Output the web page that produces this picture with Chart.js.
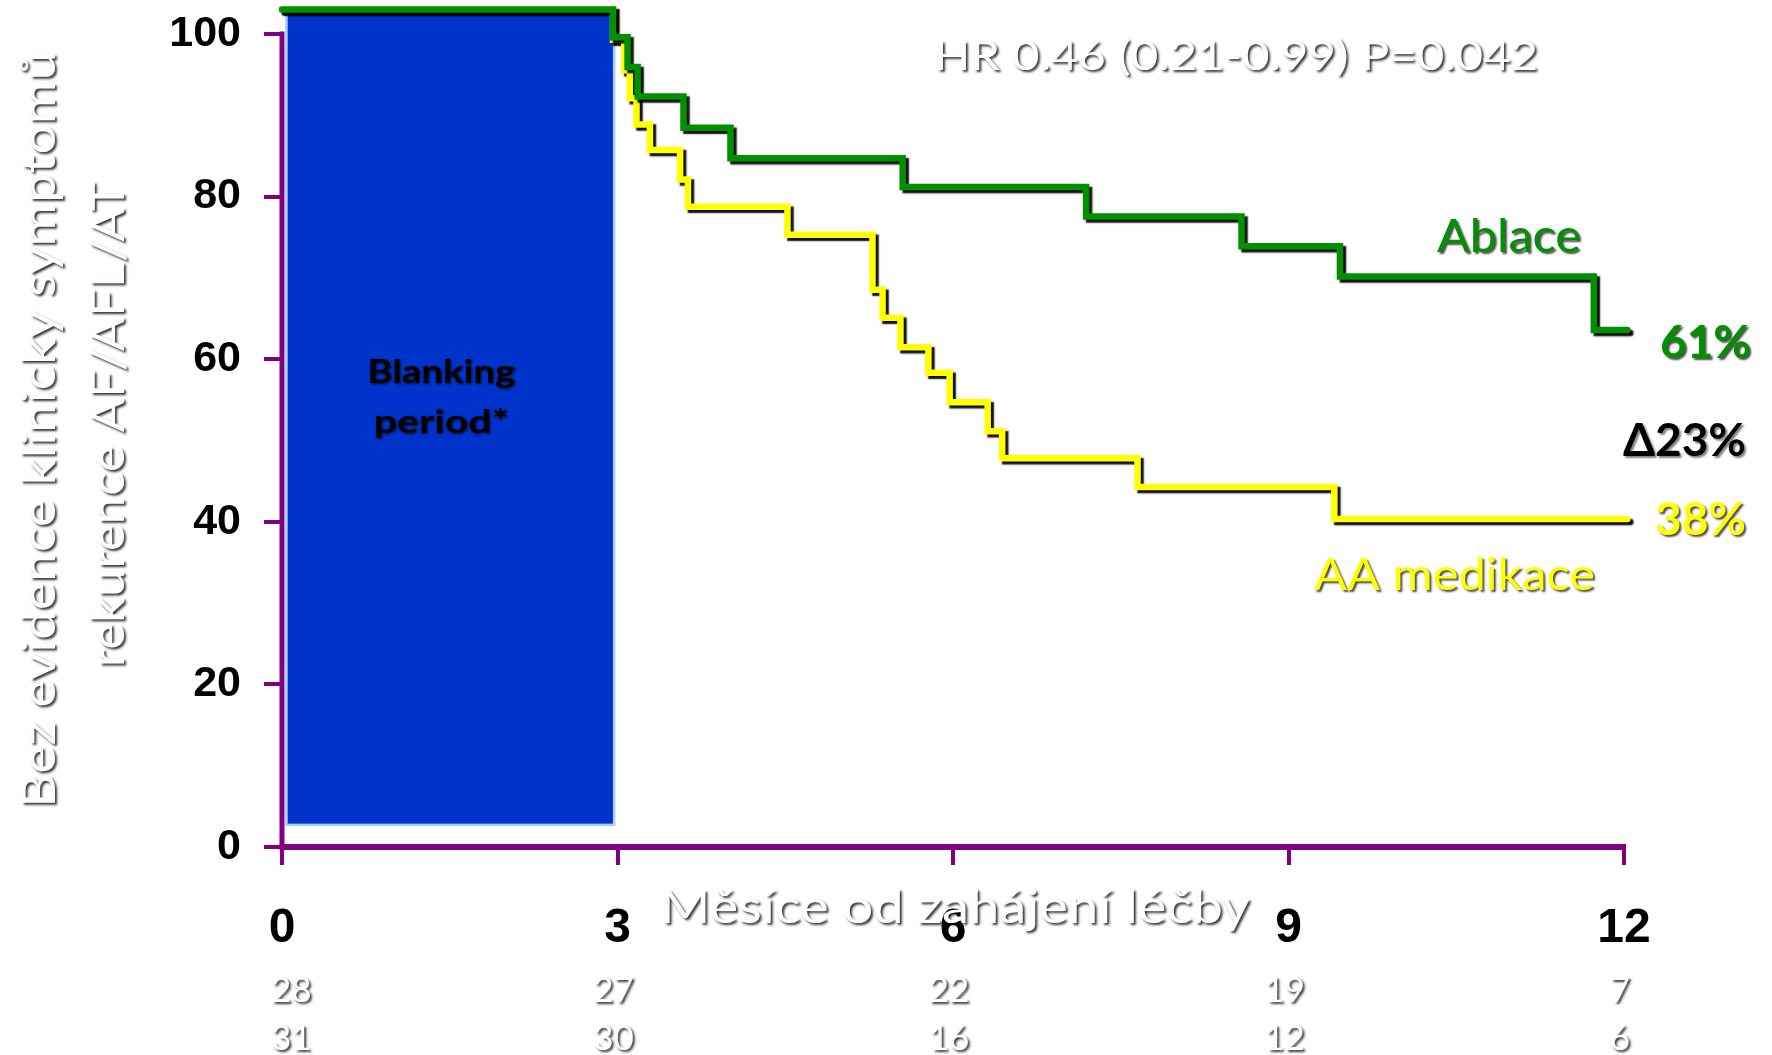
<!DOCTYPE html>
<html lang="cs">
<head>
<meta charset="utf-8">
<title>Bez rekurence AF/AFL/AT – Ablace vs AA medikace</title>
<script src="https://cdn.jsdelivr.net/npm/chart.js@4/dist/chart.umd.min.js"></script>
<style>
  html, body { margin: 0; padding: 0; background: #ffffff; }
  #wrap { width: 1772px; height: 1055px; }
  canvas { display: block; }
</style>
</head>
<body>
<div id="wrap"><canvas id="km" width="1772" height="1055"></canvas></div>
<script>
// Kaplan–Meier estimates: months since start of treatment and % free of recurrence
const ablaceMonths   = [0, 2.96, 3.09, 3.18, 3.59, 4.01, 5.55, 7.19, 8.58, 9.46, 11.73, 12.03];
const ablaceSurvival = [100, 96.6, 93.0, 89.4, 85.6, 81.9, 78.4, 74.8, 71.2, 67.5, 61.0, 61.0];

const aaMonths   = [0, 2.96, 3.06, 3.11, 3.17, 3.29, 3.56, 3.63, 4.52, 5.28, 5.37, 5.53, 5.78, 5.97, 6.31, 6.44, 7.65, 9.41, 12.03];
const aaSurvival = [100, 96.3, 92.6, 89.2, 86.0, 82.9, 79.3, 76.0, 72.6, 65.9, 62.5, 58.9, 55.8, 52.2, 48.7, 45.4, 41.9, 38.0, 38.0];

// axis ticks
const xTickValues = [0, 3, 6, 9, 12];
const yTickValues = [0, 20, 40, 60, 80, 100];

// numbers at risk under each x tick
const riskMonths   = [0, 3, 6, 9, 12];
const atRiskAblace = [28, 27, 22, 19, 7];
const atRiskAA     = [31, 30, 16, 12, 6];

// blanking period (months) and its vertical extent on the survival scale
const blankingMonths = [0.04, 2.97];
const blankingRange  = [0.8, 99.6];

// 12-month estimates quoted next to the curves
const endAblace = 61;
const endAA = 38;
const hazardText = 'HR 0.46 (0.21-0.99) P=0.042';

const PURPLE = '#800080';
const GREEN  = '#009000';
const YELLOW = '#ffff00';
const BODY_FONT = 'Lato, "Open Sans", "DejaVu Sans", sans-serif';
const TICK_FONT = '"Liberation Sans", Arial, sans-serif';

const toPoints = (xs, ys) => xs.map((x, i) => ({ x: x, y: ys[i] }));

// Text squeezed or stretched horizontally to a given width (condensed look)
function fitText(ctx, text, x, y, width, o) {
  ctx.save();
  ctx.font = o.font;
  const w = ctx.measureText(text).width;
  ctx.translate(x, y);
  if (o.rotate) ctx.rotate(o.rotate);
  ctx.scale(width / w, 1);
  ctx.textAlign = o.align || 'left';
  ctx.textBaseline = 'alphabetic';
  if (o.shadow) {
    ctx.shadowColor = o.shadow;
    ctx.shadowOffsetX = o.sx == null ? 2 : o.sx;
    ctx.shadowOffsetY = o.sy == null ? 2 : o.sy;
    ctx.shadowBlur = o.blur == null ? 2 : o.blur;
  }
  ctx.fillStyle = o.color;
  ctx.fillText(text, 0, 0);
  ctx.restore();
}

// Dark drop shadow under each survival curve
const lineShadow = {
  id: 'lineShadow',
  beforeDatasetDraw(chart) {
    const c = chart.ctx;
    c.save();
    c.shadowColor = 'rgba(0,0,0,0.95)';
    c.shadowOffsetX = 3;
    c.shadowOffsetY = 3;
    c.shadowBlur = 1.5;
  },
  afterDatasetDraw(chart) {
    chart.ctx.restore();
  }
};

// Blue box marking the blanking period
const blankingBox = {
  id: 'blankingBox',
  beforeDatasetsDraw(chart) {
    const c = chart.ctx, x = chart.scales.x, k = chart.scales.km;
    const l = x.getPixelForValue(blankingMonths[0]);
    const r = x.getPixelForValue(blankingMonths[1]);
    const t = k.getPixelForValue(blankingRange[1]);
    const b = k.getPixelForValue(blankingRange[0]);
    c.save();
    c.fillStyle = '#0033cc';
    c.fillRect(l, t, r - l, b - t);
    c.strokeStyle = '#a9cdf2';
    c.lineWidth = 2.5;
    c.strokeRect(l, t, r - l, b - t);
    c.restore();
    const cx = (l + r) / 2 - 9;
    fitText(c, 'Blanking', cx, 383, 148, { font: '700 32px ' + BODY_FONT, color: '#000', align: 'center', shadow: 'rgba(0,0,0,0.8)', sx: 1, sy: 1, blur: 3 });
    fitText(c, 'period*', cx, 433, 135, { font: '700 32px ' + BODY_FONT, color: '#000', align: 'center', shadow: 'rgba(0,0,0,0.8)', sx: 1, sy: 1, blur: 3 });
  }
};

// Axis lines, titles, curve labels and the at-risk table
const annotations = {
  id: 'annotations',
  afterDraw(chart) {
    const c = chart.ctx, x = chart.scales.x, y = chart.scales.y;
    const left = x.getPixelForValue(0);
    const right = x.getPixelForValue(12);
    const base = y.getPixelForValue(0);

    c.save();
    c.strokeStyle = PURPLE;
    c.lineCap = 'butt';
    c.lineWidth = 5;
    c.beginPath();
    c.moveTo(left, y.getPixelForValue(100) - 2.5);
    c.lineTo(left, base);
    c.stroke();
    c.lineWidth = 6;
    c.beginPath();
    c.moveTo(left - 2.5, base);
    c.lineTo(right + 2, base);
    c.stroke();
    c.restore();

    const whiteText = { color: '#ffffff', shadow: 'rgba(0,0,0,0.8)', sx: 2, sy: 2, blur: 2.5 };

    // axis titles
    fitText(c, 'Bez evidence klinicky symptomů', 55, 429, 757,
      Object.assign({ font: '400 47px ' + BODY_FONT, align: 'center', rotate: -Math.PI / 2 }, whiteText));
    fitText(c, 'rekurence AF/AFL/AT', 124, 424, 486,
      Object.assign({ font: '400 47px ' + BODY_FONT, align: 'center', rotate: -Math.PI / 2 }, whiteText));
    fitText(c, 'Měsíce od zahájení léčby', 660, 923, 590,
      Object.assign({ font: '400 46px ' + BODY_FONT }, whiteText));

    // hazard ratio
    fitText(c, hazardText, 934, 70, 604, Object.assign({ font: '400 41px ' + BODY_FONT }, whiteText));

    // curve labels
    const colShadow = 'rgba(0,0,0,0.7)';
    fitText(c, 'Ablace', 1437, 252, 144, { font: '400 47px ' + BODY_FONT, color: GREEN, shadow: colShadow });
    fitText(c, endAblace + '%', 1660, 358, 91, { font: '700 46px ' + BODY_FONT, color: GREEN, shadow: colShadow });
    fitText(c, 'Δ' + (endAblace - endAA) + '%', 1623, 456, 123, { font: '700 46px ' + BODY_FONT, color: '#000', shadow: 'rgba(0,0,0,0.5)' });
    fitText(c, endAA + '%', 1655, 535, 91, { font: '700 45px ' + BODY_FONT, color: YELLOW, shadow: colShadow });
    fitText(c, 'AA medikace', 1314, 590, 281, { font: '400 45px ' + BODY_FONT, color: YELLOW, shadow: colShadow });

    // numbers at risk (kept from running left of the y axis)
    c.save();
    c.font = '400 35px ' + BODY_FONT;
    c.textAlign = 'center';
    c.textBaseline = 'alphabetic';
    c.fillStyle = '#ffffff';
    c.shadowColor = 'rgba(0,0,0,0.8)';
    c.shadowOffsetX = 2;
    c.shadowOffsetY = 2;
    c.shadowBlur = 2.5;
    const place = (txt, m, yy) => {
      const w = c.measureText(txt).width;
      const px = Math.max(x.getPixelForValue(m) - 4, left - 11 + w / 2);
      c.fillText(txt, px, yy);
    };
    riskMonths.forEach((m, i) => {
      place(String(atRiskAblace[i]), m, 1002);
      place(String(atRiskAA[i]), m, 1050);
    });
    c.restore();
  }
};

const curveStyle = {
  borderWidth: 6.5,
  stepped: true,
  pointRadius: 0,
  pointHoverRadius: 0,
  fill: false,
  clip: false,
  borderCapStyle: 'round',
  borderJoinStyle: 'miter',
  yAxisID: 'km'
};

new Chart(document.getElementById('km'), {
  type: 'line',
  data: {
    datasets: [
      Object.assign({ label: 'Ablace', data: toPoints(ablaceMonths, ablaceSurvival), borderColor: GREEN }, curveStyle),
      Object.assign({ label: 'AA medikace', data: toPoints(aaMonths, aaSurvival), borderColor: YELLOW }, curveStyle)
    ]
  },
  options: {
    responsive: false,
    animation: false,
    devicePixelRatio: 1,
    layout: { padding: { top: 4, right: 148, left: 0, bottom: 0 } },
    plugins: { legend: { display: false }, tooltip: { enabled: false } },
    scales: {
      x: {
        type: 'linear',
        min: 0,
        max: 12,
        afterBuildTicks: s => { s.ticks = xTickValues.map(v => ({ value: v })); },
        afterFit: s => { s.height = 208; s.paddingLeft = 0; s.paddingRight = 0; },
        border: { display: false },
        grid: { drawOnChartArea: false, drawTicks: true, tickLength: 18, lineWidth: 4, color: PURPLE },
        ticks: {
          font: { family: TICK_FONT, weight: 'bold', size: 48 },
          color: '#000000',
          padding: 35,
          maxRotation: 0,
          autoSkip: false
        }
      },
      y: {
        type: 'linear',
        min: 0,
        max: 103.69,
        afterBuildTicks: s => { s.ticks = yTickValues.map(v => ({ value: v })); },
        afterFit: s => { s.width = 282; s.paddingTop = 0; s.paddingBottom = 0; },
        border: { display: false },
        grid: { drawOnChartArea: false, drawTicks: true, tickLength: 18, lineWidth: 4, color: PURPLE },
        ticks: {
          font: { family: TICK_FONT, weight: 'bold', size: 43 },
          color: '#000000',
          padding: 23,
          autoSkip: false
        }
      },
      // survival curves are plotted on their own scale, sitting slightly above the printed axis
      km: {
        type: 'linear',
        display: false,
        min: -1.89,
        max: 100.66
      }
    }
  },
  plugins: [blankingBox, lineShadow, annotations]
});
</script>
</body>
</html>
